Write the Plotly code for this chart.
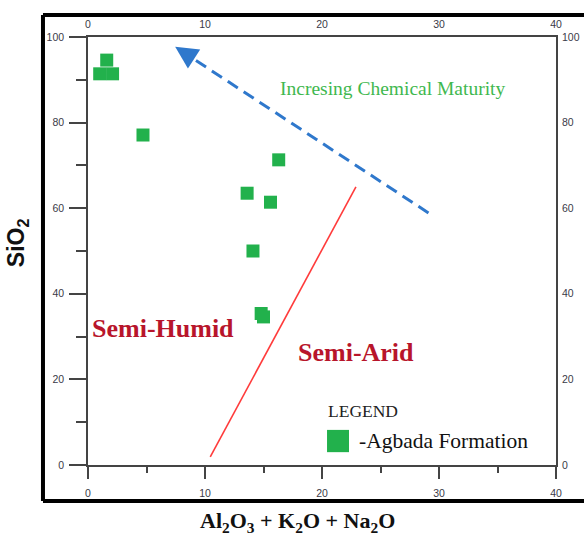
import plotly.graph_objects as go

# Data points (Al2O3 + K2O + Na2O, SiO2)
agbada_x = [1.0, 1.6, 2.1, 4.7, 16.3, 13.6, 15.6, 14.1, 14.8, 15.0]
agbada_y = [91.4, 94.6, 91.4, 77.1, 71.3, 63.5, 61.4, 50.0, 35.4, 34.6]

# Boundary line between Semi-Humid and Semi-Arid
boundary_x = [10.45, 22.9]
boundary_y = [1.9, 65.0]

# Chemical maturity trend arrow (tail -> head)
arrow_x = [29.1, 7.45]
arrow_y = [58.9, 97.7]

x_ticks = [0, 10, 20, 30, 40]
y_ticks = [0, 20, 40, 60, 80, 100]

GREEN = "#22b14c"
SERIF = "Liberation Serif, Times New Roman, serif"
SANS = "Liberation Sans, Arial, sans-serif"

fig = go.Figure()

fig.add_trace(go.Scatter(
    x=boundary_x, y=boundary_y, mode="lines",
    line=dict(color="#ff3b3b", width=1.6), showlegend=False, hoverinfo="skip"))

fig.add_trace(go.Scatter(
    x=arrow_x, y=arrow_y, mode="lines",
    line=dict(color="#2f78cc", width=3, dash="12px,7px"),
    showlegend=False, hoverinfo="skip"))

fig.add_trace(go.Scatter(
    x=agbada_x, y=agbada_y, mode="markers",
    marker=dict(symbol="square", size=13, color=GREEN, line=dict(width=0)),
    name="Agbada Formation", showlegend=False))

# invisible trace for secondary axes
fig.add_trace(go.Scatter(x=[0], y=[0], xaxis="x2", yaxis="y2", mode="markers",
                         marker=dict(opacity=0), showlegend=False, hoverinfo="skip"))

tickfont = dict(family=SANS, size=10.5, color="#3a3a48")

fig.update_layout(
    width=584, height=535,
    margin=dict(l=88, r=28, t=37, b=70, autoexpand=False),
    paper_bgcolor="white", plot_bgcolor="white",
    showlegend=False,
    xaxis=dict(range=[0, 40], tick0=0, dtick=10, ticks="outside", ticklen=12,
               tickwidth=1.5, tickcolor="#444", showline=True, linecolor="#444",
               linewidth=1.5, mirror=True, showgrid=False, zeroline=False,
               tickfont=tickfont, ticklabelstandoff=6, automargin=False,
               minor=dict(dtick=5, ticks="outside", ticklen=6, tickwidth=1.5,
                          tickcolor="#444", showgrid=False)),
    yaxis=dict(range=[0, 100], tick0=0, dtick=20, ticks="outside", ticklen=17,
               tickwidth=1.5, tickcolor="#444", showline=True, linecolor="#444",
               linewidth=1.5, mirror=True, showgrid=False, zeroline=False,
               tickfont=tickfont, ticklabelstandoff=3, automargin=False,
               minor=dict(dtick=10, ticks="outside", ticklen=10, tickwidth=1.5,
                          tickcolor="#444", showgrid=False)),
    xaxis2=dict(range=[0, 40], overlaying="x", side="top", tickvals=x_ticks,
                ticks="", showline=False, showgrid=False, zeroline=False,
                tickfont=tickfont, ticklabelstandoff=6, automargin=False),
    yaxis2=dict(range=[0, 100], overlaying="y", side="right", tickvals=y_ticks,
                ticks="", showline=False, showgrid=False, zeroline=False,
                tickfont=tickfont, ticklabelstandoff=5, automargin=False),
)

# Arrow head
fig.add_annotation(x=arrow_x[1], y=arrow_y[1], xref="x", yref="y",
                   ax=17, ay=11, text="", showarrow=True, arrowhead=2,
                   arrowsize=1.5, arrowwidth=3, arrowcolor="#2f78cc")

fig.add_annotation(x=26.1, y=87.9, text="Incresing Chemical Maturity", showarrow=False,
                   font=dict(family=SERIF, size=19.5, color="#3fb84f"))
fig.add_annotation(x=6.4, y=32.0, text="<b>Semi-Humid</b>", showarrow=False,
                   font=dict(family=SERIF, size=26, color="#b8152b"))
fig.add_annotation(x=22.9, y=26.4, text="<b>Semi-Arid</b>", showarrow=False,
                   font=dict(family=SERIF, size=26, color="#b8152b"))
fig.add_annotation(x=23.5, y=12.6, text="LEGEND", showarrow=False,
                   font=dict(family=SERIF, size=17.5, color="#222"))
fig.add_annotation(x=23.0, y=5.7, xanchor="left", text="-Agbada Formation", showarrow=False,
                   font=dict(family=SERIF, size=21.5, color="#111"))
fig.add_shape(type="rect", xref="x", yref="y", x0=20.43, x1=22.31, y0=3.0, y1=8.2,
              fillcolor=GREEN, line=dict(width=0))

# Axis titles
fig.add_annotation(xref="paper", yref="paper", x=0.447, y=-0.133,
                   xanchor="center", yanchor="middle",
                   text="<b>Al<sub>2</sub>O<sub>3</sub> + K<sub>2</sub>O + Na<sub>2</sub>O</b>",
                   showarrow=False, font=dict(family=SERIF, size=22, color="#111"))
fig.add_annotation(xref="paper", yref="paper", x=-0.149, y=0.519, textangle=-90,
                   xanchor="center", yanchor="middle",
                   text="<b>SiO<sub>2</sub></b>", showarrow=False,
                   font=dict(family=SANS, size=23, color="#111"))

# Outer frame
fx0, fx1, fy0, fy1 = -0.0962, 1.066, -0.0841, 1.0514
for (x0, y0, x1, y1, w, c) in [
    (fx0, fy1, 1.2, fy1, 4, "black"),
    (fx0, fy0, 1.2, fy0, 4, "black"),
    (fx0, fy0, fx0, fy1, 4, "black"),
    (fx1, fy0, fx1, fy1, 1, "#999"),
]:
    fig.add_shape(type="line", xref="paper", yref="paper", x0=x0, y0=y0, x1=x1, y1=y1,
                  line=dict(color=c, width=w))

fig.write_html("out.html", config={"displayModeBar": False},
               post_script="document.body.style.margin='0';document.body.style.overflow='hidden';")
